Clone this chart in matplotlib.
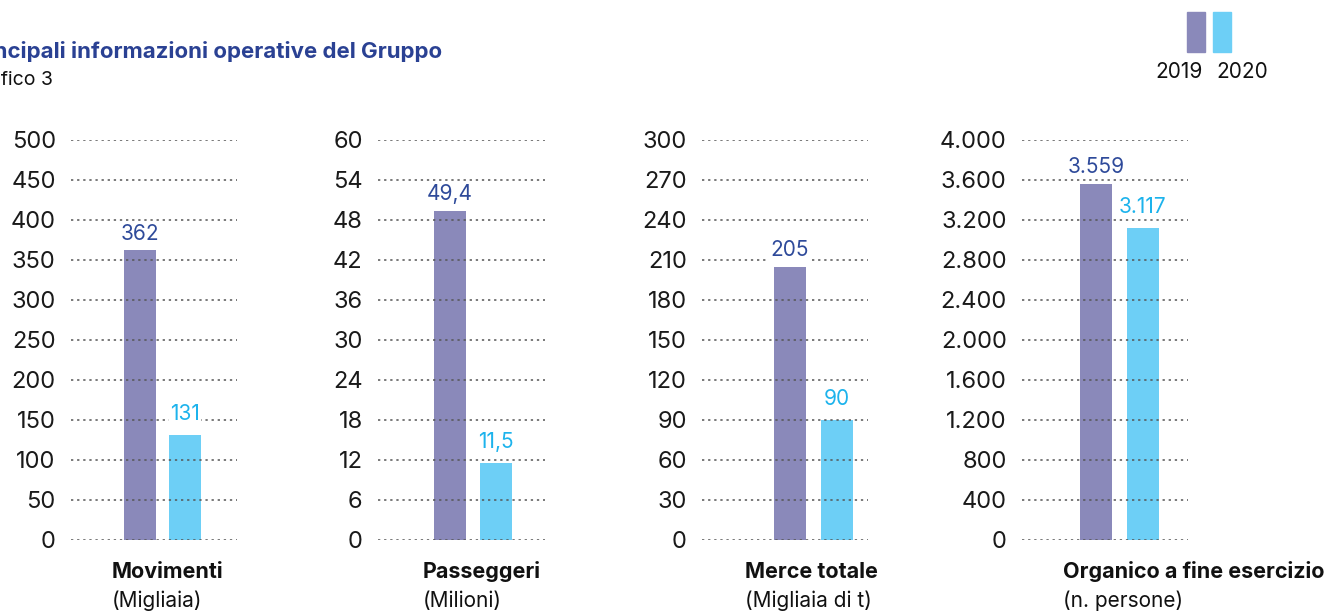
import matplotlib.pyplot as plt
from matplotlib.patches import Rectangle

plt.rcParams['font.family'] = ['Inter', 'DejaVu Sans']

# data
categories = ["Movimenti", "Passeggeri", "Merce totale", "Organico a fine esercizio"]
units = ["(Migliaia)", "(Milioni)", "(Migliaia di t)", "(n. persone)"]
years = ["2019", "2020"]
v2019 = [362, 49.4, 205, 3559]
v2020 = [131, 11.5, 90, 3117]
lab2019 = ["362", "49,4", "205", "3.559"]
lab2020 = ["131", "11,5", "90", "3.117"]
yticks = [list(range(0, 501, 50)), list(range(0, 61, 6)),
          list(range(0, 301, 30)), list(range(0, 4001, 400))]

c2019 = "#8a89ba"
c2020 = "#6dcff6"
t2019 = "#2e4a9a"
t2020 = "#1db3ec"
title_col = "#2a4193"

W, H = 1343, 615
fig = plt.figure(figsize=(W / 100, H / 100), dpi=100)

# panel geometry in pixels: gridline start, gridline end, bar centres
panels = [(71, 237, 140, 185), (378, 545, 450, 496),
          (702, 868, 790, 837), (1022, 1188, 1096, 1143)]
label_left = [112, 423, 745, 1063]
top_px, bot_px = 140, 540

for i in range(4):
    x0, x1, ca, cb = panels[i]
    s = cb - ca
    ax = fig.add_axes([x0 / W, (H - bot_px) / H, (x1 - x0) / W, (bot_px - top_px) / H])
    ax.bar([0, 1], [v2019[i], v2020[i]], width=32 / s, color=[c2019, c2020], zorder=1)
    ax.set_xlim(-(ca - x0) / s, 1 + (x1 - cb) / s)
    ax.set_ylim(0, yticks[i][-1])
    ax.set_yticks(yticks[i])
    ax.set_yticklabels([f"{t:,}".replace(",", ".") for t in yticks[i]])
    ax.tick_params(axis='y', length=0, pad=11, labelsize=17, colors="#1a1a1a")
    ax.set_xticks([])
    for sp in ax.spines.values():
        sp.set_visible(False)
    ax.yaxis.grid(True, linestyle=(0, (1.5, 2.5)), color="#555555", linewidth=1.1)
    ax.annotate(lab2019[i], (0, v2019[i]), xytext=(0, 12), textcoords='offset points',
                ha='center', va='center', fontsize=15, color=t2019, zorder=3,
                bbox=dict(facecolor='white', edgecolor='none', pad=1))
    ax.annotate(lab2020[i], (1, v2020[i]), xytext=(0, 15), textcoords='offset points',
                ha='center', va='center', fontsize=15, color=t2020, zorder=3,
                bbox=dict(facecolor='white', edgecolor='none', pad=1))
    fig.text(label_left[i] / W, 1 - 572 / H, categories[i], ha='left', va='center',
             fontsize=15.5, fontweight='bold', color="#111111")
    fig.text(label_left[i] / W, 1 - 601 / H, units[i], ha='left', va='center',
             fontsize=15, color="#111111")

# title (clipped at left edge as in the original)
fig.text(442 / W, 1 - 51 / H, "Principali informazioni operative del Gruppo", ha='right',
         va='center', fontsize=16, fontweight='bold', color=title_col)
fig.text(53 / W, 1 - 80 / H, "Grafico 3", ha='right', va='center', fontsize=14,
         color="#111111")

# legend
for xb, col in [(1187, c2019), (1213, c2020)]:
    fig.patches.append(Rectangle((xb / W, 1 - 52 / H), 18 / W, 40 / H,
                                 transform=fig.transFigure, color=col))
fig.text(1179 / W, 1 - 72 / H, years[0], ha='center', va='center', fontsize=15, color="#111111")
fig.text(1242 / W, 1 - 72 / H, years[1], ha='center', va='center', fontsize=15, color="#111111")

fig.savefig("out.png", dpi=100)
